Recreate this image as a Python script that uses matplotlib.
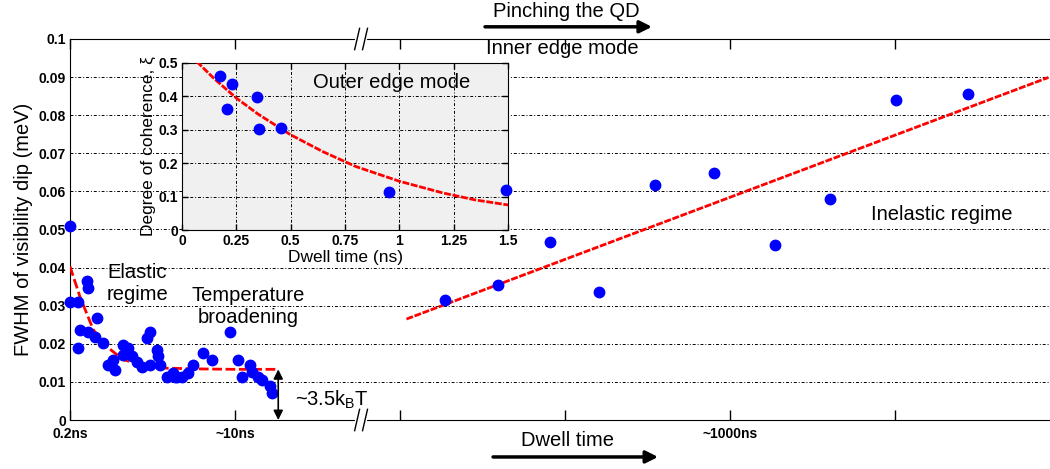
import matplotlib
matplotlib.use("Agg")
import matplotlib.pyplot as plt
import matplotlib.transforms as mtransforms

plt.rcParams['font.family'] = ['Liberation Sans', 'DejaVu Sans']
plt.rcParams['mathtext.fontset'] = 'custom'
plt.rcParams['mathtext.rm'] = 'Liberation Sans'
plt.rcParams['mathtext.it'] = 'Liberation Sans:italic'

#############################################################################
# Data (main axis: broken, arbitrary dwell-time units)
#############################################################################
# elastic / temperature broadening points
elastic_x = [0.0, 0.0, 0.05, 0.10, 0.11, 0.166, 0.05, 0.06, 0.111, 0.152,
             0.202, 0.232, 0.263, 0.273, 0.323, 0.354, 0.323, 0.374, 0.404,
             0.434, 0.485, 0.465, 0.525, 0.535, 0.485, 0.545, 0.586, 0.636,
             0.626, 0.647, 0.677, 0.717, 0.747, 0.804, 0.858, 0.97, 1.02,
             1.091, 1.04, 1.10, 1.141, 1.162, 1.212, 1.222]
elastic_y = [0.051, 0.031, 0.0311, 0.0364, 0.0347, 0.0269, 0.019, 0.0237,
             0.0232, 0.0219, 0.0202, 0.0145, 0.0158, 0.0132, 0.0197, 0.0189,
             0.0171, 0.0167, 0.0153, 0.014, 0.0232, 0.0215, 0.0184, 0.0167,
             0.0145, 0.0145, 0.0114, 0.0114, 0.0123, 0.0114, 0.0114, 0.0123,
             0.0145, 0.0175, 0.0158, 0.023, 0.0158, 0.0145, 0.0114, 0.0127,
             0.0114, 0.0105, 0.0088, 0.007]

# inelastic regime points
inelastic_x = [2.275, 2.591, 2.909, 3.207, 3.545, 3.905, 4.274, 4.606, 5.004, 5.444]
inelastic_y = [0.0314, 0.0355, 0.0468, 0.0336, 0.0616, 0.0649, 0.0459, 0.0579, 0.0839, 0.0855]

# red fits
elastic_fit_x = [0.0, 0.06, 0.141, 0.222, 0.323, 0.444, 0.586, 0.8, 1.0, 1.262]
elastic_fit_y = [0.0403, 0.0324, 0.0237, 0.0193, 0.0158, 0.0145, 0.0136, 0.0134, 0.0133, 0.0133]
inelastic_fit_x = [2.039, 5.929]
inelastic_fit_y = [0.0265, 0.0899]

main_xticks = [0, 1, 2, 3, 4, 5]
main_xticklabels = ['0.2ns', '~10ns', '', '', '~1000ns', '']
main_yticks = [0, 0.01, 0.02, 0.03, 0.04, 0.05, 0.06, 0.07, 0.08, 0.09, 0.1]
main_yticklabels = ['0', '0.01', '0.02', '0.03', '0.04', '0.05', '0.06',
                    '0.07', '0.08', '0.09', '0.1']

# inset: outer edge mode
inset_x = [0.175, 0.229, 0.207, 0.344, 0.356, 0.456, 0.954, 1.49]
inset_y = [0.461, 0.437, 0.362, 0.397, 0.301, 0.305, 0.114, 0.12]
inset_fit_x = [0.068, 0.15, 0.25, 0.35, 0.5, 0.65, 0.8, 1.0, 1.2, 1.35, 1.5]
inset_fit_y = [0.504, 0.452, 0.395, 0.347, 0.285, 0.234, 0.190, 0.146, 0.111, 0.090, 0.075]
inset_xticks = [0, 0.25, 0.5, 0.75, 1, 1.25, 1.5]
inset_xticklabels = ['0', '0.25', '0.5', '0.75', '1', '1.25', '1.5']
inset_yticks = [0, 0.1, 0.2, 0.3, 0.4, 0.5]
inset_yticklabels = ['0', '0.1', '0.2', '0.3', '0.4', '0.5']

BLUE = '#0000ff'
RED = '#ff0000'
GRID = dict(color='black', linestyle=(0, (3, 2, 1, 2)), linewidth=0.7)
FS = 14.5

fig = plt.figure(figsize=(10.5, 4.69), dpi=100)
ax = fig.add_axes([70 / 1050, 1 - 420 / 469, 979 / 1050, 381 / 469])
ax.set_xlim(0, 5.933)
ax.set_ylim(0, 0.1)

ax.plot(elastic_fit_x, elastic_fit_y, color=RED, lw=2, dashes=(3.5, 1.3), zorder=3)
ax.plot(inelastic_fit_x, inelastic_fit_y, color=RED, lw=2, dashes=(2.5, 0.6), zorder=3)
ax.plot(elastic_x, elastic_y, 'o', color=BLUE, ms=7.5, mec=BLUE, zorder=4, clip_on=False)
ax.plot(inelastic_x, inelastic_y, 'o', color=BLUE, ms=7.5, mec=BLUE, zorder=4)

ax.set_xticks(main_xticks)
ax.set_xticklabels(main_xticklabels, fontweight='bold')
ax.set_yticks(main_yticks)
ax.set_yticklabels(main_yticklabels, fontweight='bold')
ax.tick_params(axis='both', direction='in', length=7, width=1, labelsize=10, top=True)
ax.tick_params(axis='x', pad=5)
ax.tick_params(axis='y', pad=3, length=0)
ax.yaxis.grid(True, **GRID)
ax.spines['right'].set_visible(False)
ax.set_ylabel('FWHM of visibility dip (meV)', fontsize=FS, labelpad=4)

# axis break marks
bt = mtransforms.blended_transform_factory(ax.transData, ax.transAxes)
xb = 1.764
for yb in (0.0, 1.0):
    ax.plot([xb - 0.025, xb + 0.025], [yb, yb], color='white', lw=3,
            transform=bt, clip_on=False, zorder=5)
    for dx in (-0.024, 0.024):
        ax.plot([xb + dx - 0.015, xb + dx + 0.015], [yb - 0.028, yb + 0.028],
                color='black', lw=1, transform=bt, clip_on=False, zorder=6)

# annotations
ax.text(0.224, 0.0358, 'Elastic\nregime', fontsize=FS, va='center', ha='left')
ax.text(1.079, 0.0299, 'Temperature\nbroadening', fontsize=FS, va='center',
        ha='center', multialignment='center')
ax.text(5.285, 0.0539, 'Inelastic regime', fontsize=FS, va='center', ha='center')
ax.text(2.982, 0.0974, 'Inner edge mode', fontsize=FS, va='center', ha='center')
ax.text(3.006, 0.1071, 'Pinching the QD', fontsize=FS, va='center', ha='center',
        clip_on=False)
ax.annotate('', xy=(3.527, 0.1032), xytext=(2.515, 0.1032),
            arrowprops=dict(arrowstyle='-|>', lw=2.5, color='black', mutation_scale=18,
                            shrinkA=0, shrinkB=0), annotation_clip=False)
ax.text(3.012, -0.0055, 'Dwell time', fontsize=FS, va='center', ha='center',
        clip_on=False)
ax.annotate('', xy=(3.564, -0.0097), xytext=(2.564, -0.0097),
            arrowprops=dict(arrowstyle='-|>', lw=2.5, color='black', mutation_scale=18,
                            shrinkA=0, shrinkB=0), annotation_clip=False)
ax.annotate('', xy=(1.262, 0.0), xytext=(1.262, 0.0133),
            arrowprops=dict(arrowstyle='<|-|>', lw=1.2, color='black', mutation_scale=14,
                            shrinkA=0, shrinkB=0), annotation_clip=False, zorder=6)
ax.text(1.364, 0.0053, r'~3.5k$_\mathrm{B}$T', fontsize=FS, va='center', ha='left')

# inset
ins = fig.add_axes([182 / 1050, 1 - 230 / 469, 326 / 1050, 167 / 469])
ins.set_facecolor('#f0f0f0')
ins.set_xlim(0, 1.5)
ins.set_ylim(0, 0.5)
ins.plot(inset_fit_x, inset_fit_y, color=RED, lw=2, dashes=(2.5, 0.6), zorder=3)
ins.plot(inset_x, inset_y, 'o', color=BLUE, ms=7.5, mec=BLUE, zorder=4, clip_on=False)
ins.set_xticks(inset_xticks)
ins.set_xticklabels(inset_xticklabels, fontweight='bold')
ins.set_yticks(inset_yticks)
ins.set_yticklabels(inset_yticklabels, fontweight='bold')
ins.tick_params(axis='both', direction='in', length=4, width=1, labelsize=10, top=True, right=True)
ins.tick_params(axis='x', pad=3)
ins.tick_params(axis='y', pad=3)
ins.grid(True, **GRID)
ins.set_xlabel('Dwell time (ns)', fontsize=12.5, labelpad=1)
ins.set_ylabel('Degree of coherence, ξ', fontsize=12.5, labelpad=2)
ins.text(0.966, 0.443, 'Outer edge mode', fontsize=FS, va='center', ha='center')

fig.savefig('out.png', dpi=100)
